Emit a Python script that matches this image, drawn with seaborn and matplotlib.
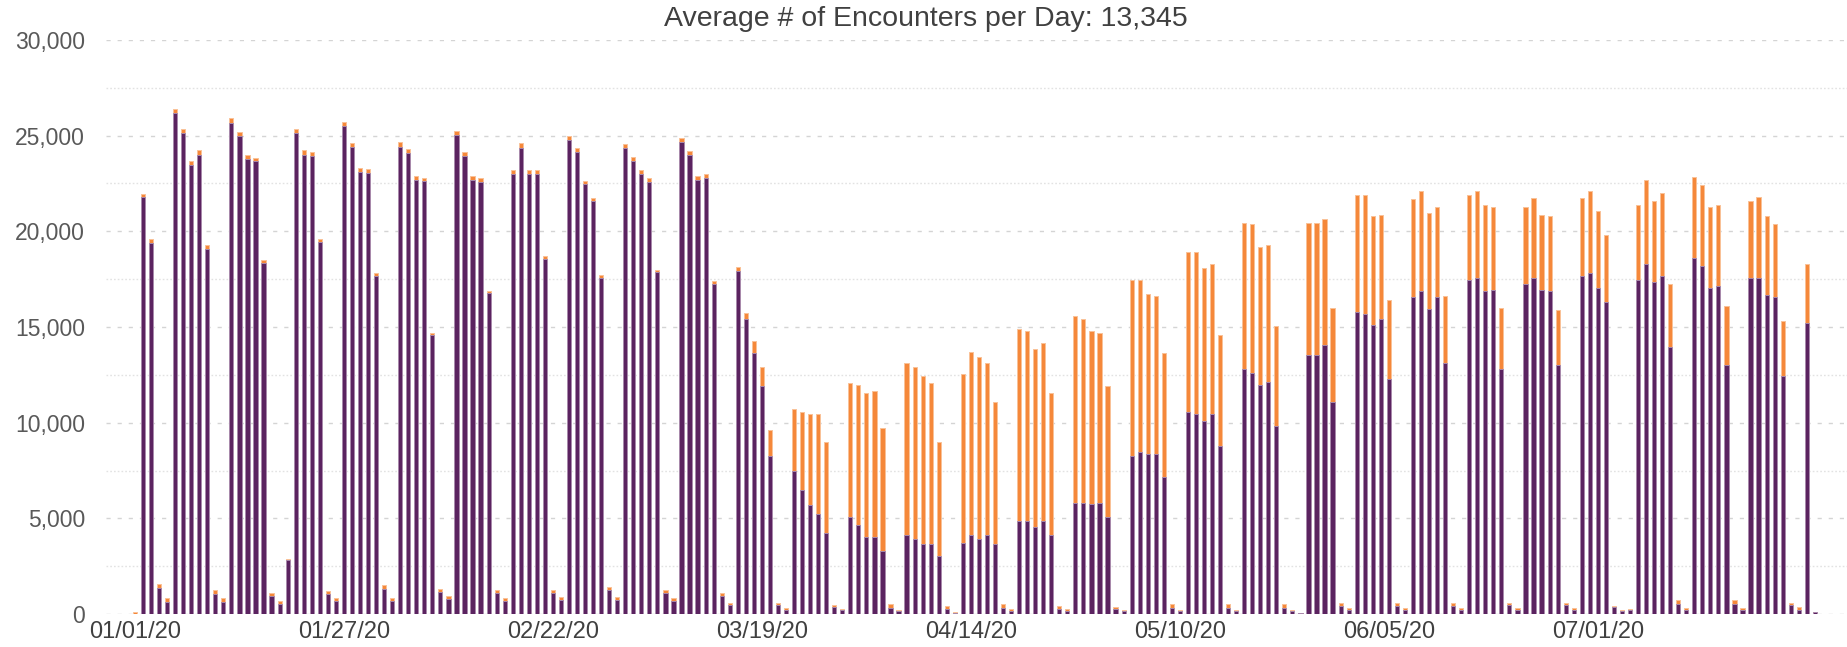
"""Daily encounters, in-person vs virtual, stacked bars."""

import datetime as dt

import matplotlib.pyplot as plt
import numpy as np
import pandas as pd
import seaborn as sns
from matplotlib.ticker import FuncFormatter, MultipleLocator

# in-person encounters per day (purple), by month
in_person_jan = [
    20, 21770, 19400, 1350, 650, 26200, 25150, 23450, 24000, 19100, 1050, 650,
    25650, 24980, 23800, 23650, 18350, 930, 530, 2800, 25150, 24000, 23950,
    19450, 1020, 660, 25480, 24400, 23100, 23050, 17650,
]
in_person_feb = [
    1300, 660, 24430, 24080, 22700, 22620, 14580, 1150, 780, 25030, 23930,
    22680, 22600, 16760, 1100, 660, 23000, 24380, 23000, 23000, 18560, 1100,
    740, 24780, 24130, 22450, 21560, 17560, 1240,
]
in_person_mar = [
    740, 24330, 23680, 22990, 22600, 17860, 1100, 690, 24680, 23980, 22690,
    22780, 17250, 960, 450, 17950, 15400, 13650, 11900, 8260, 450, 230, 7450,
    6500, 5720, 5250, 4240, 340, 190, 5080, 4630,
]
in_person_apr = [
    4020, 4020, 3300, 300, 150, 4130, 3920, 3640, 3640, 3030, 250, 70, 3720,
    4130, 3920, 4130, 3640, 300, 170, 4860, 4860, 4540, 4860, 4130, 280, 170,
    5790, 5790, 5750, 5790,
]
in_person_may = [
    5080, 270, 140, 8260, 8480, 8370, 8370, 7140, 300, 140, 10570, 10460,
    10090, 10460, 8760, 300, 140, 12780, 12570, 11990, 12140, 9830, 300, 140,
    50, 13540, 13540, 14070, 11060, 400, 200,
]
in_person_jun = [
    15800, 15690, 15090, 15430, 12290, 400, 200, 16550, 16870, 15950, 16550,
    13130, 400, 200, 17470, 17580, 16870, 16910, 12830, 450, 200, 17260,
    17580, 16910, 16870, 13020, 450, 200, 17670, 17840,
]
in_person_jul = [
    17040, 16330, 370, 150, 200, 17470, 18310, 17370, 17690, 13970, 520, 200,
    18590, 18200, 17040, 17150, 13020, 520, 200, 17580, 17580, 16660, 16550,
    12420, 450, 200, 15190, 100,
]

# virtual encounters per day (orange), by month
virtual_jan = [
    100, 200, 200, 220, 190, 200, 200, 200, 250, 200, 180, 190, 250, 220, 200,
    200, 150, 170, 170, 100, 200, 250, 200, 150, 180, 180, 220, 200, 200, 200,
    150,
]
virtual_feb = [
    200, 180, 220, 220, 200, 180, 120, 180, 170, 220, 220, 200, 180, 140, 180,
    160, 200, 220, 200, 200, 140, 170, 160, 220, 220, 200, 190, 140, 180,
]
virtual_mar = [
    160, 220, 220, 210, 200, 140, 170, 150, 220, 220, 210, 220, 150, 160, 130,
    200, 350, 600, 1000, 1340, 130, 70, 3290, 4070, 4740, 5210, 4730, 110, 50,
    6990, 7330,
]
virtual_apr = [
    7510, 7640, 6400, 200, 50, 8970, 8980, 8780, 8430, 5940, 150, 30, 8800,
    9570, 9510, 8970, 7420, 200, 70, 10010, 9940, 9320, 9280, 7430, 120, 70,
    9790, 9640, 9050, 8910,
]
virtual_may = [
    6840, 120, 60, 9210, 8990, 8370, 8260, 6500, 200, 60, 8350, 8460, 8010,
    7810, 5830, 200, 60, 7660, 7790, 7210, 7160, 5210, 200, 60, 20, 6900,
    6900, 6570, 4950, 180, 100,
]
virtual_jun = [
    6080, 6190, 5720, 5440, 4110, 180, 100, 5160, 5230, 5030, 4730, 3500, 180,
    100, 4410, 4520, 4520, 4370, 3180, 130, 100, 4020, 4180, 3960, 3920, 2880,
    130, 100, 4090, 4260,
]
virtual_jul = [
    4030, 3490, 40, 50, 80, 3920, 4390, 4230, 4310, 3290, 210, 100, 4240, 4220,
    4240, 4240, 3100, 210, 100, 4020, 4220, 4130, 3810, 2880, 130, 140, 3120, 0,
]

tick_labels = [
    "01/01/20", "01/27/20", "02/22/20", "03/19/20",
    "04/14/20", "05/10/20", "06/05/20", "07/01/20",
]
title = "Average # of Encounters per Day: 13,345"

PURPLE = "#5b2360"
ORANGE = "#f5883a"

in_person = (in_person_jan + in_person_feb + in_person_mar + in_person_apr
             + in_person_may + in_person_jun + in_person_jul)
virtual = (virtual_jan + virtual_feb + virtual_mar + virtual_apr
           + virtual_may + virtual_jun + virtual_jul)

dates = pd.date_range("2020-01-01", periods=len(in_person), freq="D")
df = pd.DataFrame({"date": dates, "in_person": in_person, "virtual": virtual})
df["total"] = df["in_person"] + df["virtual"]
df["pos"] = np.arange(len(df))

sns.set_theme(style="white")
plt.rcParams["font.family"] = ["Liberation Sans", "DejaVu Sans"]

fig = plt.figure(figsize=(18.47, 6.47), dpi=100)
ax = fig.add_axes([106 / 1847, 33 / 647, 1741 / 1847, 574 / 647])

# stacked bars: totals in orange, in-person drawn over them
sns.barplot(data=df, x="pos", y="total", color=ORANGE, saturation=1,
            width=0.52, edgecolor="#f9c197", linewidth=0.7, ax=ax)
sns.barplot(data=df, x="pos", y="in_person", color=PURPLE, saturation=1,
            width=0.52, edgecolor="#a88aad", linewidth=0.7, ax=ax)

ax.set_ylim(0, 30000)
ax.set_xlim(-3.6, 213)
ax.yaxis.set_major_locator(MultipleLocator(5000))
ax.yaxis.set_minor_locator(MultipleLocator(2500))
ax.yaxis.set_major_formatter(FuncFormatter(lambda v, _: f"{int(v):,}"))
ax.set_axisbelow(True)
ax.grid(axis="y", which="major", color="#d4d4d4", linewidth=1.0,
        linestyle=(0, (3, 5)))
ax.grid(axis="y", which="minor", color="#e2e2e2", linewidth=1.0,
        linestyle=(0, (1.2, 1.5)))
ax.grid(axis="x", visible=False)

tick_pos = [(dt.datetime.strptime(t, "%m/%d/%y") - dates[0]).days for t in tick_labels]
ax.set_xticks(tick_pos)
ax.set_xticklabels(tick_labels)
ax.tick_params(axis="x", length=0, pad=5, labelsize=17, labelcolor="#404040")
ax.tick_params(axis="y", which="both", length=0, pad=15, labelsize=16.5,
               labelcolor="#595959")
ax.set_xlabel("")
ax.set_ylabel("")
sns.despine(ax=ax, left=True, bottom=True)

fig.text(926 / 1847, 1 - 19 / 647, title, ha="center", va="center",
         fontsize=20.5, color="#404040")

fig.savefig("out.png", dpi=100)
plt.close(fig)
